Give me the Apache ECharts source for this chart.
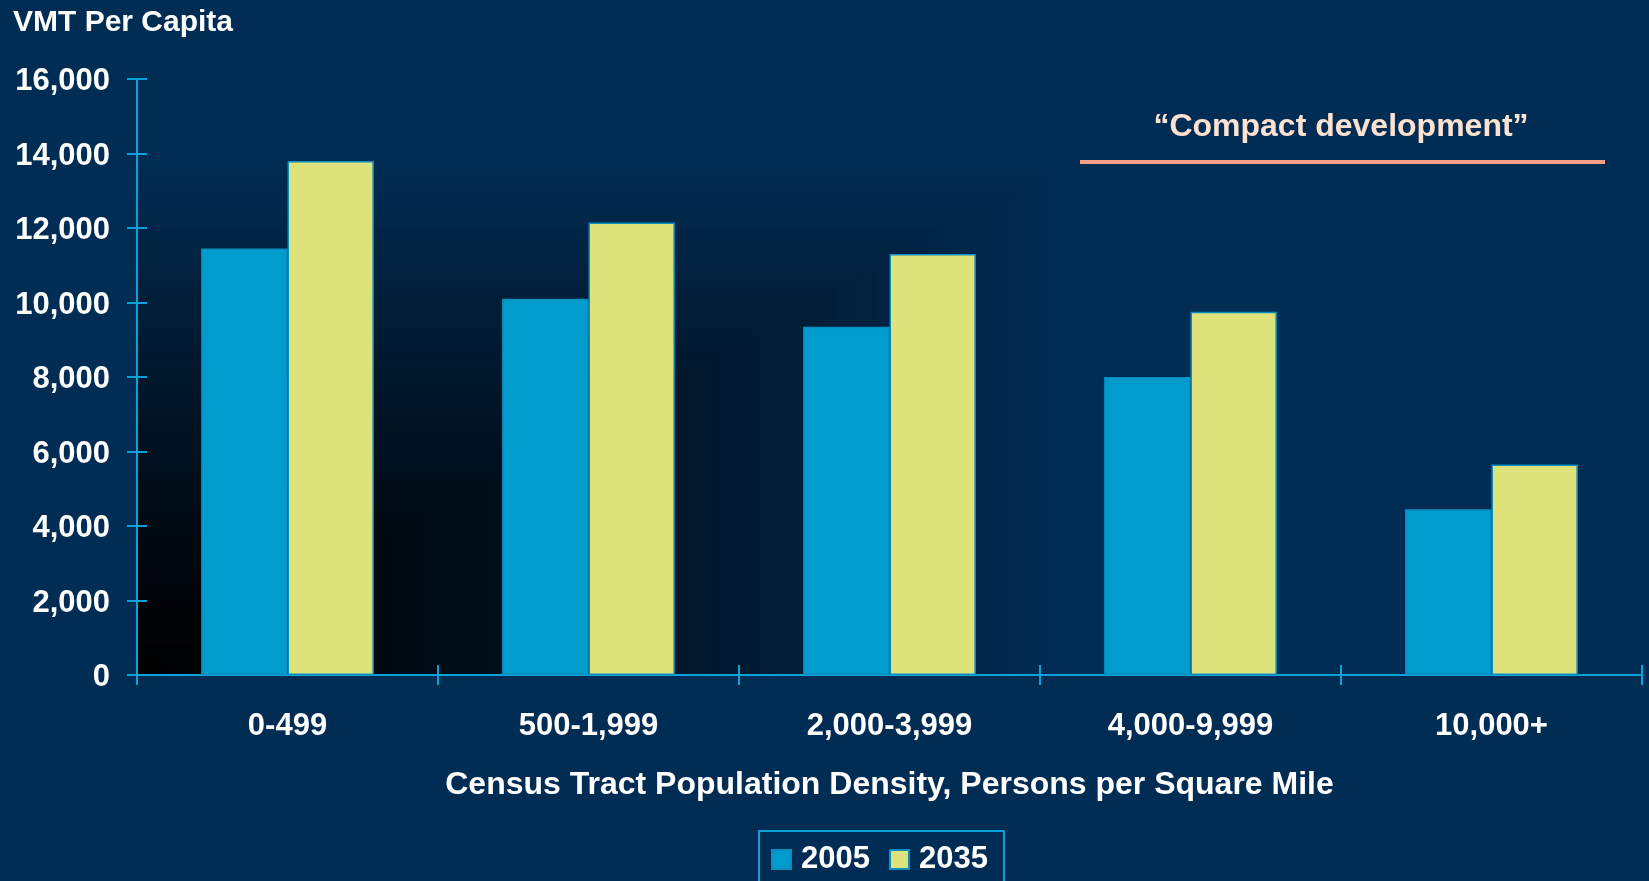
<!DOCTYPE html>
<html>
<head>
<meta charset="utf-8">
<title>VMT Per Capita by Census Tract Population Density</title>
<script src="https://cdn.jsdelivr.net/npm/echarts/dist/echarts.min.js"></script>
<style>
  html, body { margin: 0; padding: 0; background: #012d55; }
  #chart { width: 1649px; height: 881px; }
</style>
</head>
<body>
<div id="chart"></div>
<script>
// Density bands (persons per square mile)
const categories = ['0-499', '500-1,999', '2,000-3,999', '4,000-9,999', '10,000+'];
// Vehicle miles travelled per capita
const vmt2005 = [11450, 10100, 9350, 8000, 4450];
const vmt2035 = [13800, 12150, 11300, 9750, 5650];
const seriesNames = ['2005', '2035'];
// Value axis range
const yMin = 0;
const yMax = 16000;
const yStep = 2000;

const W = 1649, H = 881;
const GRID = { left: 137, right: 7, top: 79, bottom: 206 };

const NAVY = [1, 45, 85];
const AXIS_BLUE = '#0aa2d8';
const FONT = "'Liberation Sans', Arial, sans-serif";

// Plot-area shading: dark in the lower-left corner fading out to navy
function cornerShade() {
  const x0 = GRID.left, yb = H - GRID.bottom;
  const plotW = W - GRID.left - GRID.right;
  const reachX = 940, reachY = 520, steps = 70;
  const out = [];
  for (let k = steps; k >= 1; k--) {
    const t = (k - 0.5) / steps;
    const f = Math.pow(t, 1.2);
    const c = NAVY.map(v => Math.round(v * f));
    const w = Math.min(reachX * k / steps, plotW);
    const h = reachY * k / steps;
    out.push({
      type: 'rect', z: -10, silent: true,
      shape: { x: x0, y: yb - h, width: w, height: h },
      style: { fill: 'rgb(' + c.join(',') + ')' }
    });
  }
  return out;
}

const chart = echarts.init(document.getElementById('chart'), null, { renderer: 'canvas' });

const fmt = v => '{v|' + v.toLocaleString('en-US') + '}';

const option = {
  backgroundColor: '#012d55',
  animation: false,
  textStyle: { fontFamily: FONT },
  title: {
    text: 'VMT Per Capita',
    left: 13, top: 8, padding: 0,
    textStyle: { color: '#ffffff', fontSize: 30, fontWeight: 'bold', fontFamily: FONT }
  },
  legend: {
    data: seriesNames,
    left: 759, top: 831,
    padding: [13, 16, 40, 12],
    itemWidth: 19, itemHeight: 19, itemGap: 19,
    icon: 'rect',
    borderColor: AXIS_BLUE, borderWidth: 2,
    textStyle: { color: '#ffffff', fontSize: 31, fontWeight: 'bold', fontFamily: FONT, padding: [0, 0, 0, 5] }
  },
  grid: { left: GRID.left, right: GRID.right, top: GRID.top, bottom: GRID.bottom, containLabel: false },
  xAxis: [
    {
      type: 'category', data: categories, position: 'bottom',
      name: 'Census Tract Population Density, Persons per Square Mile',
      nameLocation: 'middle', nameGap: 94,
      nameTextStyle: { color: '#ffffff', fontSize: 32, fontWeight: 'bold', fontFamily: FONT },
      axisLine: { show: true, lineStyle: { color: AXIS_BLUE, width: 2 } },
      axisTick: { show: true, length: 10, lineStyle: { color: AXIS_BLUE, width: 2 } },
      axisLabel: { color: '#ffffff', fontSize: 31, fontWeight: 'bold', fontFamily: FONT, margin: 36 },
      splitLine: { show: false }
    },
    {
      type: 'category', data: categories, position: 'bottom',
      axisLine: { show: false },
      axisTick: { show: true, inside: true, length: 10, lineStyle: { color: AXIS_BLUE, width: 2 } },
      axisLabel: { show: false },
      splitLine: { show: false }
    }
  ],
  yAxis: [
    {
      type: 'value', min: yMin, max: yMax, interval: yStep, position: 'left',
      axisLine: { show: true, lineStyle: { color: AXIS_BLUE, width: 2 } },
      axisTick: { show: true, length: 10, lineStyle: { color: AXIS_BLUE, width: 2 } },
      axisLabel: {
        margin: 27, formatter: fmt,
        rich: {
          v: { color: '#ffffff', fontSize: 31, fontWeight: 'bold', fontFamily: FONT, padding: [5, 0, 0, 0] }
        }
      },
      splitLine: { show: false }
    },
    {
      type: 'value', min: yMin, max: yMax, interval: yStep, position: 'left',
      axisLine: { show: false },
      axisTick: { show: true, inside: true, length: 10, lineStyle: { color: AXIS_BLUE, width: 2 } },
      axisLabel: { show: false },
      splitLine: { show: false }
    }
  ],
  series: [
    {
      name: seriesNames[0], type: 'bar', data: vmt2005,
      barWidth: '28.7%', barGap: '0%',
      itemStyle: { color: '#009ccd', borderColor: '#0a8ec0', borderWidth: 1.5 }
    },
    {
      name: seriesNames[1], type: 'bar', data: vmt2035,
      barWidth: '28.7%', barGap: '0%',
      itemStyle: { color: '#dee27a', borderColor: '#0a8ec0', borderWidth: 1.5 }
    }
  ],
  graphic: cornerShade().concat([
    {
      type: 'text', z: 10,
      style: {
        text: '\u201CCompact development\u201D',
        x: 1341, y: 127, textAlign: 'center', textVerticalAlign: 'middle',
        fill: '#fde2d2', font: 'bold 32px ' + FONT
      }
    },
    {
      type: 'line', z: 10,
      shape: { x1: 1080, y1: 162, x2: 1605, y2: 162 },
      style: { stroke: '#f3a186', lineWidth: 4 }
    }
  ])
};

chart.setOption(option);
</script>
</body>
</html>
